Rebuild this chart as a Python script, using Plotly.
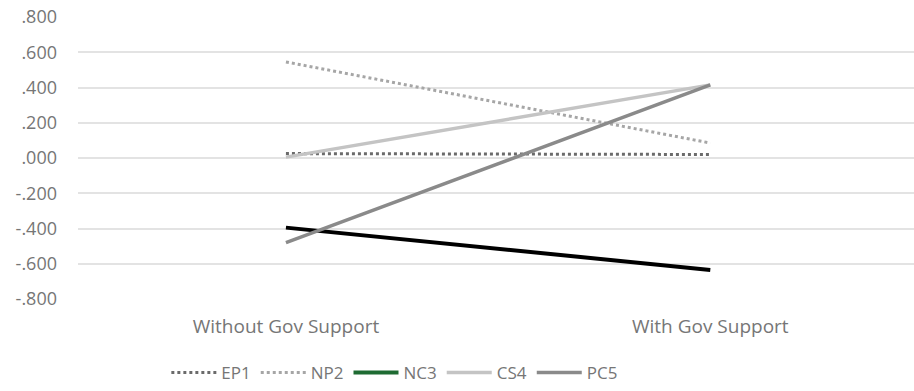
import plotly.graph_objects as go

categories = ["Without Gov Support", "With Gov Support"]
series_names = ["EP1", "NP2", "NC3", "CS4", "PC5"]
EP1 = [0.025, 0.020]
NP2 = [0.545, 0.085]
NC3 = [-0.395, -0.635]
CS4 = [0.005, 0.415]
PC5 = [-0.480, 0.415]
tick_vals = [0.8, 0.6, 0.4, 0.2, 0.0, -0.2, -0.4, -0.6, -0.8]
tick_text = [".800", ".600", ".400", ".200", ".000", "-.200", "-.400", "-.600", "-.800"]

fig = go.Figure()
fig.add_trace(go.Scatter(x=categories, y=EP1, name="EP1", mode="lines",
                         line=dict(color="#6b6b6b", width=3, dash="dot")))
fig.add_trace(go.Scatter(x=categories, y=NP2, name="NP2", mode="lines",
                         line=dict(color="#a6a6a6", width=3, dash="dot")))
fig.add_trace(go.Scatter(x=categories, y=NC3, name="NC3", mode="lines", showlegend=False,
                         line=dict(color="#000000", width=4)))
fig.add_trace(go.Scatter(x=[None], y=[None], name="NC3", mode="lines",
                         line=dict(color="#1e6b32", width=4)))
fig.add_trace(go.Scatter(x=categories, y=CS4, name="CS4", mode="lines",
                         line=dict(color="#c4c4c4", width=3.5)))
fig.add_trace(go.Scatter(x=categories, y=PC5, name="PC5", mode="lines",
                         line=dict(color="#8a8a8a", width=3.5)))

fig.update_layout(
    width=914, height=391,
    margin=dict(l=78, r=0, t=17, b=92),
    paper_bgcolor="white", plot_bgcolor="white",
    font=dict(family="Open Sans", color="#767676", size=16),
    legend=dict(orientation="h", x=0.379, xanchor="center", y=-0.2, yanchor="top",
                itemwidth=45, font=dict(size=17, color="#767676"), traceorder="normal"),
    xaxis=dict(type="category", range=[-0.49, 1.48], showgrid=False, zeroline=False,
               showline=False, ticks="", ticklabelstandoff=14,
               tickfont=dict(size=19, color="#767676")),
    yaxis=dict(range=[-0.8, 0.8], tickvals=tick_vals, ticktext=tick_text,
               showgrid=True, gridcolor="#e3e3e3", gridwidth=1.5, zeroline=False,
               showline=False, ticks="", ticklabelstandoff=20,
               tickfont=dict(size=18, color="#767676")),
)

fig.write_html("out.html")
